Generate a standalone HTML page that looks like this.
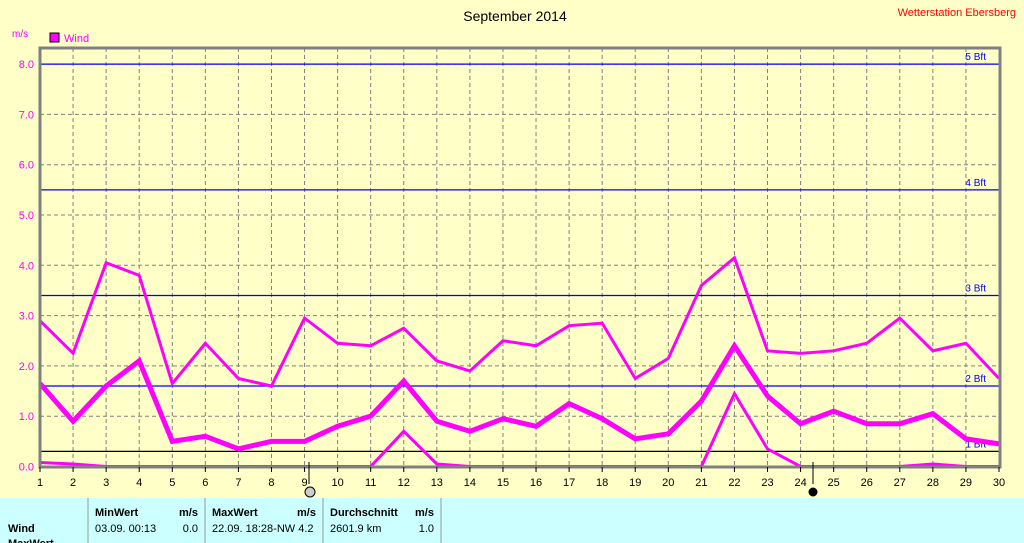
<!DOCTYPE html>
<html><head><meta charset="utf-8"><style>
body{margin:0;background:#ffffc8;font-family:"Liberation Sans",sans-serif}
svg{display:block}
</style></head><body>
<svg id="c" width="1024" height="543" viewBox="0 0 1024 543">
<rect width="1024" height="543" fill="#ffffc8"/>
<text x="515" y="21" font-size="14" text-anchor="middle" fill="#000">September 2014</text>
<text x="1016" y="16" font-size="11" text-anchor="end" fill="#f00">Wetterstation Ebersberg</text>
<text x="12" y="37" font-size="10" fill="#f0f">m/s</text>
<rect x="50" y="33" width="9" height="9" fill="#f0f" stroke="#000"/>
<text x="64" y="42" font-size="11" fill="#f0f">Wind</text>
<g id="grid"></g>
<g id="series"></g>
<rect x="40" y="48" width="960" height="419" fill="none" stroke="#808080" stroke-width="3"/>
<g id="axes"></g>
<rect x="0" y="498" width="1024" height="45" fill="#ccffff"/>
<g font-size="11" fill="#000">
<line x1="88" y1="498" x2="88" y2="543" stroke="#999"/>
<line x1="205" y1="498" x2="205" y2="543" stroke="#999"/>
<line x1="323" y1="498" x2="323" y2="543" stroke="#999"/>
<line x1="441" y1="498" x2="441" y2="543" stroke="#999"/>
<text x="95" y="516" font-weight="bold">MinWert</text><text x="198" y="516" font-weight="bold" text-anchor="end">m/s</text>
<text x="212" y="516" font-weight="bold">MaxWert</text><text x="316" y="516" font-weight="bold" text-anchor="end">m/s</text>
<text x="330" y="516" font-weight="bold">Durchschnitt</text><text x="434" y="516" font-weight="bold" text-anchor="end">m/s</text>
<text x="8" y="532" font-weight="bold">Wind</text>
<text x="95" y="532">03.09.  00:13</text><text x="198" y="532" text-anchor="end">0.0</text>
<text x="212" y="532">22.09.  18:28-NW 4.2</text>
<text x="330" y="532">2601.9 km</text><text x="434" y="532" text-anchor="end">1.0</text>
<text x="8" y="547" font-weight="bold">MaxWert</text>
</g>
</svg>
<script>
const days=[1,2,3,4,5,6,7,8,9,10,11,12,13,14,15,16,17,18,19,20,21,22,23,24,25,26,27,28,29,30];
const maxVals=[2.9,2.25,4.05,3.8,1.65,2.45,1.75,1.6,2.95,2.45,2.4,2.75,2.1,1.9,2.5,2.4,2.8,2.85,1.75,2.15,3.6,4.15,2.3,2.25,2.3,2.45,2.95,2.3,2.45,1.75];
const avgVals=[1.65,0.9,1.6,2.1,0.5,0.6,0.35,0.5,0.5,0.8,1.0,1.7,0.9,0.7,0.95,0.8,1.25,0.95,0.55,0.65,1.3,2.4,1.4,0.85,1.1,0.85,0.85,1.05,0.55,0.45];
const minVals=[0.08,0.05,0,0,0,0,0,0,0,0,0,0.7,0.05,0,0,0,0,0,0,0,0,1.45,0.35,0,0,0,0,0.05,0,0];
const yTicks=[0,1,2,3,4,5,6,7,8];
const bftVals=[0.3,1.6,3.4,5.5,8.0];
const bftLabels=["1 Bft","2 Bft","3 Bft","4 Bft","5 Bft"];
const NS="http://www.w3.org/2000/svg";
const x=d=>40+(d-1)*(959/29);
const y=v=>466.5-v*50.3;
function mk(tag,attrs,parent,txt){const e=document.createElementNS(NS,tag);for(const k in attrs)e.setAttribute(k,attrs[k]);if(txt!==undefined)e.textContent=txt;document.getElementById(parent).appendChild(e);return e;}
yTicks.forEach(t=>{
 const l=mk('line',{x1:40,x2:1000,y1:y(t),y2:y(t),stroke:'#808080','stroke-dasharray':'4,3'},'grid');
 
 
 const tx=mk('text',{x:34,y:y(t)+4,'font-size':11,fill:'#f0f','text-anchor':'end'},'axes',t.toFixed(1));
 
 
});
days.forEach(d=>{
 if(d>1&&d<30){const l=mk('line',{x1:x(d),x2:x(d),y1:48,y2:467,stroke:'#808080','stroke-dasharray':'4,3'},'grid');
 
 }
 const tk=mk('line',{x1:x(d),x2:x(d),y1:467,y2:472,stroke:'#000'},'axes');
 
 
 const tx=mk('text',{x:x(d),y:486,'font-size':11,fill:'#000','text-anchor':'middle'},'axes',String(d));
 
 
});
bftVals.forEach((v,i)=>{
 const l=mk('line',{x1:40,x2:1000,y1:y(v),y2:y(v),stroke:i==0?'#000':'#0000ff','stroke-width':1.2},'grid');
 
 
 const t=mk('text',{x:986,y:y(v)-4,'font-size':10,fill:'#0000ff','text-anchor':'end'},'grid',bftLabels[i]);
 
 
});
function line(vals,w,name){
 const p=mk('polyline',{points:vals.map((v,i)=>x(days[i])+','+y(v)).join(' '),fill:'none',stroke:'#ff00ff','stroke-width':w,'stroke-linejoin':'miter'},'series');
 
 
}
line(maxVals,3,'max-wind-line');
line(avgVals,5,'avg-wind-line');
line(minVals,3,'min-wind-line');
const m1=mk('line',{x1:309,x2:309,y1:462,y2:484,stroke:'#000'},'axes');


const c1=mk('circle',{cx:310,cy:492,r:5,fill:'#ccc',stroke:'#000'},'axes');


const m2=mk('line',{x1:813,x2:813,y1:462,y2:484,stroke:'#000'},'axes');


const c2=mk('circle',{cx:813,cy:492,r:4.5,fill:'#000'},'axes');


</script>
</body></html>
